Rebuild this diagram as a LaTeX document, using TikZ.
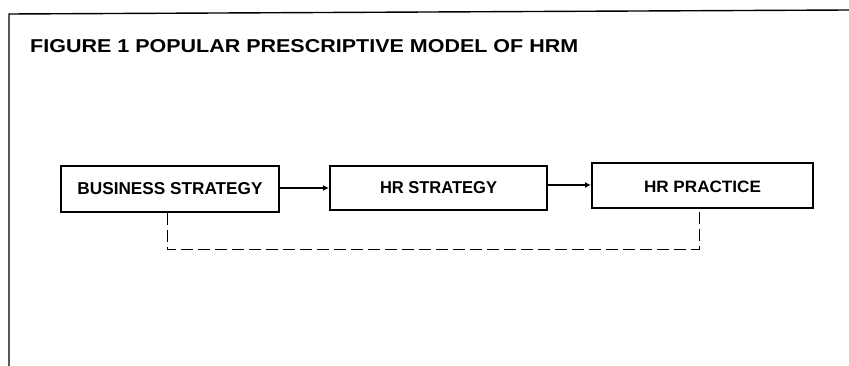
\documentclass[tikz,border=0pt]{standalone}
\usepackage{fontspec}
\setmainfont{Liberation Sans}
\usetikzlibrary{arrows.meta}
\begin{document}
\begin{tikzpicture}[x=1pt,y=-1pt,
  box/.style={draw,line width=2pt,inner sep=0pt,anchor=north west},
  conn/.style={line width=1.6pt,-{Latex[length=6pt,width=6pt]}},
  fb/.style={line width=1pt,dash pattern=on 12pt off 5pt}]
\useasboundingbox (0,0) rectangle (849,366);
% frame
\coordinate (ftl) at (9,14);
\coordinate (fbl) at (9,366);
\coordinate (ftr) at (849,10);
\draw[line width=1.4pt] (fbl) -- (ftl) -- (ftr);
% title
\node[anchor=south west,inner sep=0pt] (title) at (30,53)
  {\resizebox{548pt}{13pt}{\bfseries FIGURE 1 POPULAR PRESCRIPTIVE MODEL OF HRM}};
% boxes
\node[box,minimum width=218pt,minimum height=46pt] (bs) at (60,165) {};
\node[box,minimum width=217pt,minimum height=44pt] (hrs) at (329,165) {};
\node[box,minimum width=221pt,minimum height=45pt] (hrp) at (591,162) {};
% texts
\node[inner sep=0pt] (bst) at (bs.center) {\resizebox{185pt}{12pt}{\bfseries BUSINESS STRATEGY}};
\node[inner sep=0pt] (hrst) at (hrs.center) {\resizebox{117pt}{12pt}{\bfseries HR STRATEGY}};
\node[inner sep=0pt] (hrpt) at ([yshift=-1pt]hrp.center) {\resizebox{117pt}{11.5pt}{\bfseries HR PRACTICE}};
% connectors
\draw[conn] (bs.east |- 0,188) -- (hrs.west |- 0,188);
\draw[conn] (hrs.east |- 0,185) -- (hrp.west |- 0,185);
\draw[fb] ([xshift=-3pt]bs.south) -- ++(0,37) -| ([xshift=-3pt]hrp.south);
\end{tikzpicture}
\end{document}
